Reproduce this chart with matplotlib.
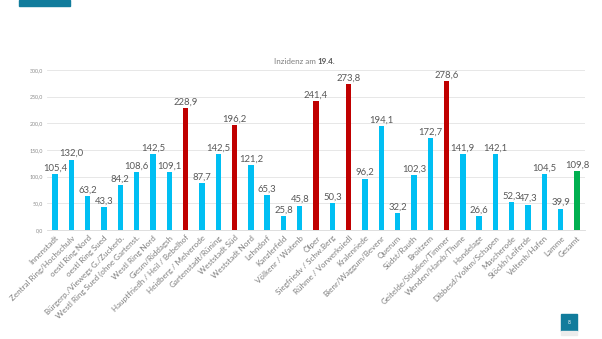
import numpy as np
import matplotlib
matplotlib.use('Agg')
import matplotlib.pyplot as plt
from matplotlib.patches import Rectangle

plt.rcParams['font.family'] = ['Lato', 'DejaVu Sans']

# Daten
bezirke = ['Innenstadt', 'Zentral Ring/Hochschulv', 'oestl Ring Nord', 'oestl Ring Sued',
           'Bürgerp./Viewegs G./Zuckerb.', 'Westl Ring Sued (ohne Gartenst.',
           'Westl Ring Nord', 'Giesm/Riddagsh', 'Hauptfriedh / Heil / Bebelhof',
           'Heidberg / Melverode', 'Gartenstadt/Rüning', 'Weststadt Süd',
           'Weststadt Nord', 'Lehndorf', 'Kanzlerfeld', 'Völkenr / Watenb', 'Ölper',
           'Siegfriedv / Schw.Berg', 'Rühme / Vorwerksiedl', 'Kralenriede',
           'Bienr/Waggum/Bevenr', 'Querum', 'Südst/Rauth', 'Broitzem',
           'Geitelde/Stiddien/Timmer', 'Wenden/Harxb/Thune', 'Hondelage',
           'Dibbesd/Volkm/Schapen', 'Mascherode', 'Stöckh/Leiferde',
           'Veltenh/Hafen', 'Lamme', 'Gesamt']
inzidenz = [105.4, 132.0, 63.2, 43.3, 84.2, 108.6, 142.5, 109.1, 228.9,
            87.7, 142.5, 196.2, 121.2, 65.3, 25.8, 45.8, 241.4, 50.3, 273.8,
            96.2, 194.1, 32.2, 102.3, 172.7, 278.6, 141.9, 26.6, 142.1, 52.3,
            47.3, 104.5, 39.9, 109.8]
rot = ['Hauptfriedh / Heil / Bebelhof', 'Weststadt Süd', 'Ölper',
       'Rühme / Vorwerksiedl', 'Geitelde/Stiddien/Timmer']

farben = []
for b in bezirke:
    if b == 'Gesamt':
        farben.append('#00B050')
    elif b in rot:
        farben.append('#C00000')
    else:
        farben.append('#00BFF3')

fig = plt.figure(figsize=(6.02, 3.39), dpi=100)
ax = fig.add_axes([0.078, 0.3215, 0.894, 0.472])

x = np.arange(len(bezirke))
ax.bar(x, inzidenz, width=0.33, color=farben, zorder=3)
for xi, v in zip(x, inzidenz):
    ax.text(xi, v + 3, f'{v:.1f}'.replace('.', ','), ha='center', va='bottom',
            fontsize=6.8, color='#595959', zorder=4)

ax.set_xlim(-0.5, len(bezirke) - 0.5)
ax.set_ylim(0, 300)
ax.set_yticks(np.arange(0, 301, 50))
ax.set_yticklabels([f'{t:.1f}'.replace('.', ',') for t in np.arange(0, 301, 50)],
                   fontsize=3.8, color='#8c8c8c')
ax.set_xticks(x)
ax.set_xticklabels(bezirke, rotation=45, ha='right', rotation_mode='anchor',
                   fontsize=5.8, color='#7f7f7f')
ax.tick_params(axis='both', length=0, pad=3)
ax.grid(axis='y', color='#e3e3e3', linewidth=0.6, zorder=0)
for s in ['top', 'right', 'left']:
    ax.spines[s].set_visible(False)
ax.spines['bottom'].set_color('#d9d9d9')
ax.spines['bottom'].set_linewidth(0.6)

# Titel
fig.text(0.528, 0.82, 'Inzidenz am ', ha='right', va='center', fontsize=5.8, color='#7f7f7f')
fig.text(0.528, 0.82, '19.4.', ha='left', va='center', fontsize=5.8, color='#595959',
         fontweight='bold')

# Deko
fig.patches.append(Rectangle((19 / 602, 1 - 6 / 339), 51 / 602, 6 / 339,
                             transform=fig.transFigure, color='#117C9C'))
fig.patches.append(Rectangle((561 / 602, 1 - 331 / 339), 16 / 602, 17 / 339,
                             transform=fig.transFigure, color='#117C9C'))
fig.patches.append(Rectangle((561 / 602, 1 - 335 / 339), 16 / 602, 4 / 339,
                             transform=fig.transFigure, color='#ececec'))
fig.text(569 / 602, 1 - 322.5 / 339, '8', ha='center', va='center', fontsize=3.5,
         color='white')

plt.savefig('out.png', dpi=100)
